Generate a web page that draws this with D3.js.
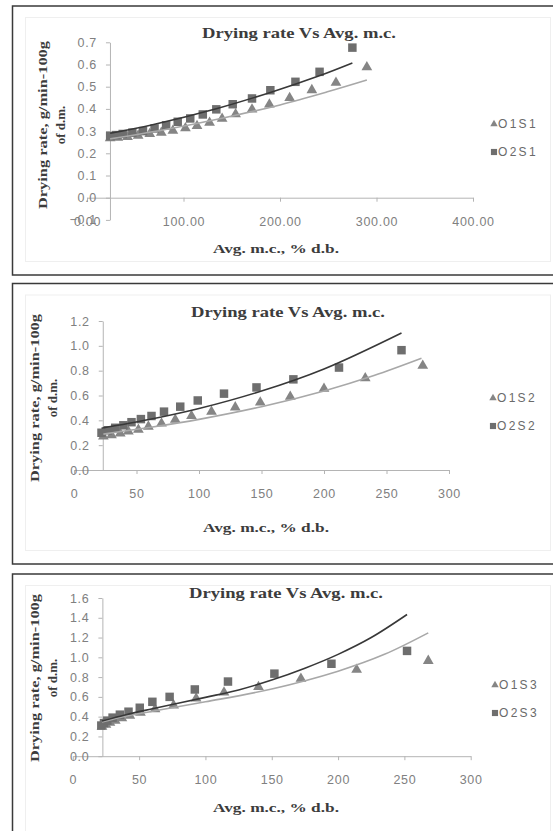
<!DOCTYPE html>
<html lang="en">
<head>
  <meta charset="UTF-8">
  <title>Drying rate Vs Avg. m.c.</title>
  <style type="text/css">
    body{
      margin: 0;
      background: #fff;
    }
    .axis path,
    .axis line{
      fill: none;
      stroke: #b4b4b4;
      stroke-width: 1px;
    }
    .axis text{
      font-family: "Liberation Sans", Arial, sans-serif;
      font-size: 12.5px;
      fill: #808080;
      letter-spacing: 0.7px;
    }
    .serif{
      font-family: "Liberation Serif", "Times New Roman", serif;
      font-weight: bold;
      fill: #3c3c3c;
    }
    .legend text{
      font-family: "Liberation Sans", Arial, sans-serif;
      font-size: 12px;
      fill: #6a6a6a;
      letter-spacing: 2.3px;
    }
  </style>
  <script type="text/javascript" src="https://cdnjs.cloudflare.com/ajax/libs/d3/7.8.5/d3.min.js"></script>
</head>
<body>
<script type="text/javascript">
  // [avg m.c. % d.b., drying rate g/min-100g of d.m.]
  var o1s1 = [[24,0.268],[32,0.27],[42,0.274],[53,0.28],[65,0.287],[77,0.293],[89,0.302],[102,0.313],
              [114,0.323],[127,0.338],[140,0.356],[154,0.376],[171,0.398],[189,0.42],[210,0.449],
              [233,0.485],[258,0.518],[290,0.588]];
  var o2s1 = [[24,0.278],[30,0.282],[37,0.287],[47,0.293],[58,0.30],[70,0.312],[82,0.326],[94,0.342],
              [107,0.357],[120,0.375],[134,0.398],[151,0.421],[171,0.447],[190,0.484],[216,0.522],
              [241,0.567],[275,0.676]];

  var o1s2 = [[23.5,0.27],[30,0.28],[37,0.295],[43.5,0.31],[51.5,0.325],[59.5,0.35],[70,0.375],[81,0.405],
              [94,0.435],[110,0.47],[129,0.505],[149,0.545],[173,0.59],[200,0.655],[233,0.74],[279,0.84]];
  var o2s2 = [[22,0.30],[27,0.32],[33,0.34],[39.5,0.36],[46,0.385],[53.5,0.41],[62,0.435],[72,0.47],
              [85,0.51],[99,0.56],[120,0.615],[146,0.665],[175.5,0.73],[212,0.825],[262,0.965]];

  var o1s3 = [[22,0.30],[25,0.32],[28,0.34],[32,0.36],[37,0.385],[43,0.41],[51,0.44],[62,0.475],
              [76,0.515],[93,0.585],[114,0.645],[140,0.70],[172,0.785],[214,0.875],[268,0.965]];
  var o2s3 = [[21.5,0.31],[23.5,0.335],[26,0.36],[30,0.39],[35.5,0.42],[42,0.45],[50.5,0.49],[60,0.55],
              [73,0.60],[92,0.675],[117,0.755],[152,0.835],[195,0.935],[252,1.065]];

  // trendlines, points
  var trend1s1 = [[24,0.265],[80,0.306],[140,0.358],[200,0.418],[250,0.478],[290,0.53]];
  var trend2s1 = [[24,0.29],[69,0.33],[134,0.401],[190,0.474],[240,0.548],[275,0.607]];
  var trend1s2 = [[23.5,0.289],[60,0.342],[100,0.408],[150,0.51],[200,0.637],[240,0.761],[278,0.90]];
  var trend2s2 = [[22,0.336],[60,0.406],[100,0.495],[150,0.636],[200,0.814],[262,1.104]];
  var trend1s3 = [[22,0.345],[40,0.405],[60,0.455],[100,0.55],[150,0.68],[200,0.86],[235,1.03],[268,1.247]];
  var trend2s3 = [[22,0.355],[40,0.42],[60,0.48],[100,0.595],[125,0.67],[150,0.77],[175,0.89],[200,1.03],[225,1.2],[252,1.433]];

  var seriesNames = [['O1S1','O2S1'], ['O1S2','O2S2'], ['O1S3','O2S3']];
  var xTicks = [[0,100,200,300,400], [0,50,100,150,200,250,300], [0,50,100,150,200,250,300]];
  var xTickFormat = ['.2f', 'd', 'd'];
  var yTicks = [[-0.1,0,0.1,0.2,0.3,0.4,0.5,0.6,0.7], [0,0.2,0.4,0.6,0.8,1.0,1.2], [0,0.2,0.4,0.6,0.8,1.0,1.2,1.4,1.6]];

  var titleText = 'Drying rate Vs Avg. m.c.';
  var xTitle = 'Avg. m.c., % d.b.';
  var yTitle1 = 'Drying rate, g/min-100g';
  var yTitle2 = 'of d.m.';

  // layout per panel (pixels)
  var panels = [
    {top: 6, bottom: 275, xr: [87, 473], yr: [219.9, 42.3], cross: 23.8,
     titleX: 299, titleY: 33, ytX: 42, ytY: 125, xtX: 276, xtY: 248, legX: 494, legY: 124,
     data: [o1s1, o2s1], trends: [trend1s1, trend2s1]},
    {top: 283.5, bottom: 564, xr: [74, 449], yr: [470, 321], cross: 23,
     titleX: 288, titleY: 312, ytX: 34, ytY: 398, xtX: 266, xtY: 527, legX: 493, legY: 398,
     data: [o1s2, o2s2], trends: [trend1s2, trend2s2]},
    {top: 574, bottom: 850, xr: [72.8, 470.7], yr: [756.2, 598], cross: 22.3,
     titleX: 286, titleY: 593, ytX: 34, ytY: 678, xtX: 276, xtY: 807, legX: 495, legY: 685,
     data: [o1s3, o2s3], trends: [trend1s3, trend2s3]}
  ];

  var markerFill = ['#858585', '#6e6e6e'];
  var lineColor = ['#a8a8a8', '#383838'];

  var svg = d3.select('body')
    .append('svg')
    .attr('width', 553)
    .attr('height', 831);

  panels.forEach(function(p, k){
    var g = svg.append('g');

    g.append('rect')
      .attr('x', 12.5)
      .attr('y', p.top)
      .attr('width', 560)
      .attr('height', p.bottom - p.top)
      .attr('fill', 'none')
      .attr('stroke', '#3a3a3a')
      .attr('stroke-width', 1.5);

    g.append('rect')
      .attr('x', 25.5)
      .attr('y', p.top + 11.5)
      .attr('width', 525)
      .attr('height', p.bottom - p.top - 25)
      .attr('fill', 'none')
      .attr('stroke', '#efefef');

    var xt = xTicks[k], yt = yTicks[k];
    var x = d3.scaleLinear().domain([0, xt[xt.length - 1]]).range(p.xr);
    var y = d3.scaleLinear().domain([yt[0], yt[yt.length - 1]]).range(p.yr);

    var xAxis = d3.axisBottom(x)
      .tickValues(xt)
      .tickFormat(d3.format(xTickFormat[k]))
      .tickSize(4)
      .tickSizeOuter(0)
      .tickPadding(15);

    var yAxis = d3.axisLeft(y)
      .tickValues(yt)
      .tickFormat(d3.format('.1f'))
      .tickSize(4)
      .tickSizeOuter(0)
      .tickPadding(9);

    g.append('g')
      .attr('class', 'x axis')
      .attr('transform', 'translate(0,' + y(0) + ')')
      .call(xAxis);

    g.append('g')
      .attr('class', 'y axis')
      .attr('transform', 'translate(' + x(p.cross) + ',0)')
      .call(yAxis);

    // markers
    var symbols = [d3.symbolTriangle, d3.symbolSquare];
    var sizes = [50, 72];
    p.data.forEach(function(s, i){
      g.selectAll('.pt' + i)
        .data(s)
        .enter().append('path')
        .attr('class', 'pt' + i)
        .attr('d', d3.symbol().type(symbols[i]).size(sizes[i]))
        .attr('transform', function(d){ return 'translate(' + x(d[0]) + ',' + y(d[1]) + ')'; })
        .attr('fill', markerFill[i]);
    });

    // trendlines
    p.trends.forEach(function(t, i){
      g.append('path')
        .datum(t)
        .attr('fill', 'none')
        .attr('stroke', lineColor[i])
        .attr('stroke-width', 1.6)
        .attr('d', d3.line()
          .curve(d3.curveCatmullRom)
          .x(function(d){ return x(d[0]); })
          .y(function(d){ return y(d[1]); }));
    });

    // titles
    g.append('text')
      .attr('class', 'serif')
      .attr('x', p.titleX)
      .attr('y', p.titleY)
      .attr('dy', '0.35em')
      .attr('text-anchor', 'middle')
      .attr('font-size', 15)
      .attr('textLength', 194)
      .attr('lengthAdjust', 'spacingAndGlyphs')
      .text(titleText);

    g.append('text')
      .attr('class', 'serif')
      .attr('x', p.xtX)
      .attr('y', p.xtY)
      .attr('dy', '0.35em')
      .attr('text-anchor', 'middle')
      .attr('font-size', 13)
      .attr('textLength', 126)
      .attr('lengthAdjust', 'spacingAndGlyphs')
      .text(xTitle);

    var yt1 = g.append('text')
      .attr('class', 'serif')
      .attr('transform', 'translate(' + p.ytX + ',' + p.ytY + ') rotate(-90)')
      .attr('text-anchor', 'middle')
      .attr('font-size', 13);
    yt1.append('tspan')
      .attr('x', 0)
      .attr('dy', '0.35em')
      .attr('textLength', 168)
      .attr('lengthAdjust', 'spacingAndGlyphs')
      .text(yTitle1);
    yt1.append('tspan')
      .attr('x', 0)
      .attr('dy', 18)
      .text(yTitle2);

    // legend
    var legend = g.selectAll('.legend')
      .data(seriesNames[k])
      .enter().append('g')
      .attr('class', 'legend')
      .attr('transform', function(d, i){ return 'translate(' + p.legX + ',' + (p.legY + i * 28) + ')'; });

    legend.append('path')
      .attr('d', function(d, i){ return d3.symbol().type(symbols[i]).size([24, 38][i])(); })
      .attr('fill', function(d, i){ return markerFill[i]; });

    legend.append('text')
      .attr('x', 4)
      .attr('dy', '0.36em')
      .text(function(d){ return d; });
  });
</script>
</body>
</html>
